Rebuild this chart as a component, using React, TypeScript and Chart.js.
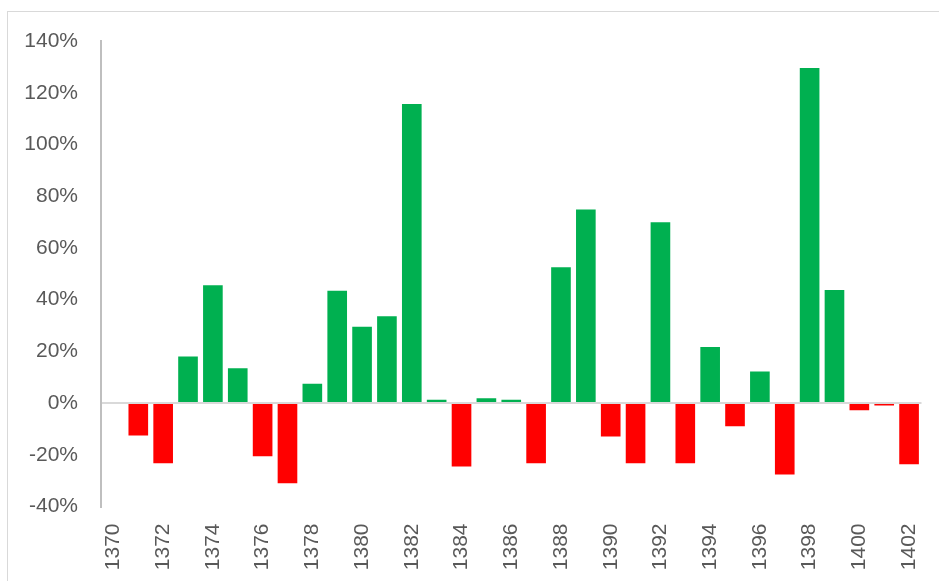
import React, { useEffect, useRef } from "react";
import { Chart, registerables } from "chart.js";

Chart.register(...registerables);

const years: string[] = [
  "1370", "1371", "1372", "1373", "1374", "1375", "1376", "1377", "1378", "1379",
  "1380", "1381", "1382", "1383", "1384", "1385", "1386", "1387", "1388", "1389",
  "1390", "1391", "1392", "1393", "1394", "1395", "1396", "1397", "1398", "1399",
  "1400", "1401", "1402",
];

const growthPct: (number | null)[] = [
  null, -12.5, -23.3, 18, 45.6, 13.5, -20.6, -31, 7.5, 43.4,
  29.5, 33.6, 115.6, 1.3, -24.5, 1.9, 1.3, -23.3, 52.5, 74.8,
  -12.9, -23.3, 69.9, -23.3, 21.7, -9, 12.2, -27.6, 129.6, 43.7,
  -2.8, -0.9, -23.7,
];

const yMin = -40;
const yMax = 140;
const yStep = 20;

const GREEN = "#00B050";
const RED = "#FF0000";
const TEXT = "#595959";
const FONT = "'Liberation Sans', Arial, sans-serif";

export default function App() {
  const ref = useRef<HTMLCanvasElement | null>(null);

  useEffect(() => {
    document.body.style.margin = "0";
    if (!ref.current) return;
    const chart = new Chart(ref.current, {
      type: "bar",
      data: {
        labels: years,
        datasets: [
          {
            data: growthPct,
            backgroundColor: growthPct.map((v) => ((v ?? 0) >= 0 ? GREEN : RED)),
            borderWidth: 0,
            barPercentage: 0.79,
            categoryPercentage: 1,
          },
        ],
      },
      options: {
        animation: false,
        responsive: false,
        maintainAspectRatio: false,
        layout: { padding: { left: 0, right: 17.5, top: 41, bottom: 0 } },
        plugins: {
          legend: { display: false },
          tooltip: { enabled: false },
        },
        scales: {
          x: {
            grid: { display: false, drawTicks: false },
            border: { display: false },
            ticks: {
              autoSkip: false,
              minRotation: 90,
              maxRotation: 90,
              padding: 17,
              color: TEXT,
              font: { family: FONT, size: 21 },
              callback: (_v: any, i: number) => (i % 2 === 0 ? years[i] : ""),
            },
            afterFit: (s: any) => {
              s.height = 74.5;
              s.paddingLeft = 0;
              s.paddingRight = 0;
            },
          },
          y: {
            min: yMin,
            max: yMax,
            ticks: {
              stepSize: yStep,
              padding: 23,
              color: TEXT,
              font: { family: FONT, size: 21 },
              callback: (v: any) => `${v}%`,
            },
            grid: {
              drawTicks: false,
              color: (ctx: any) => (ctx.tick && ctx.tick.value === 0 ? "#d9d9d9" : "rgba(0,0,0,0)"),
              lineWidth: 2,
            },
            border: { display: true, color: "#bfbfbf", width: 2 },
            afterFit: (s: any) => {
              s.width = 101;
            },
          },
        },
      },
    });
    return () => chart.destroy();
  }, []);

  return (
    <div style={{ position: "relative", width: 939, height: 581, overflow: "hidden", background: "#fff" }}>
      <div
        style={{
          position: "absolute",
          left: 7,
          top: 11,
          width: 940,
          height: 580,
          border: "1.5px solid #d9d9d9",
          boxSizing: "border-box",
        }}
      />
      <canvas ref={ref} width={939} height={581} style={{ position: "absolute", left: 0, top: 0 }} />
    </div>
  );
}
